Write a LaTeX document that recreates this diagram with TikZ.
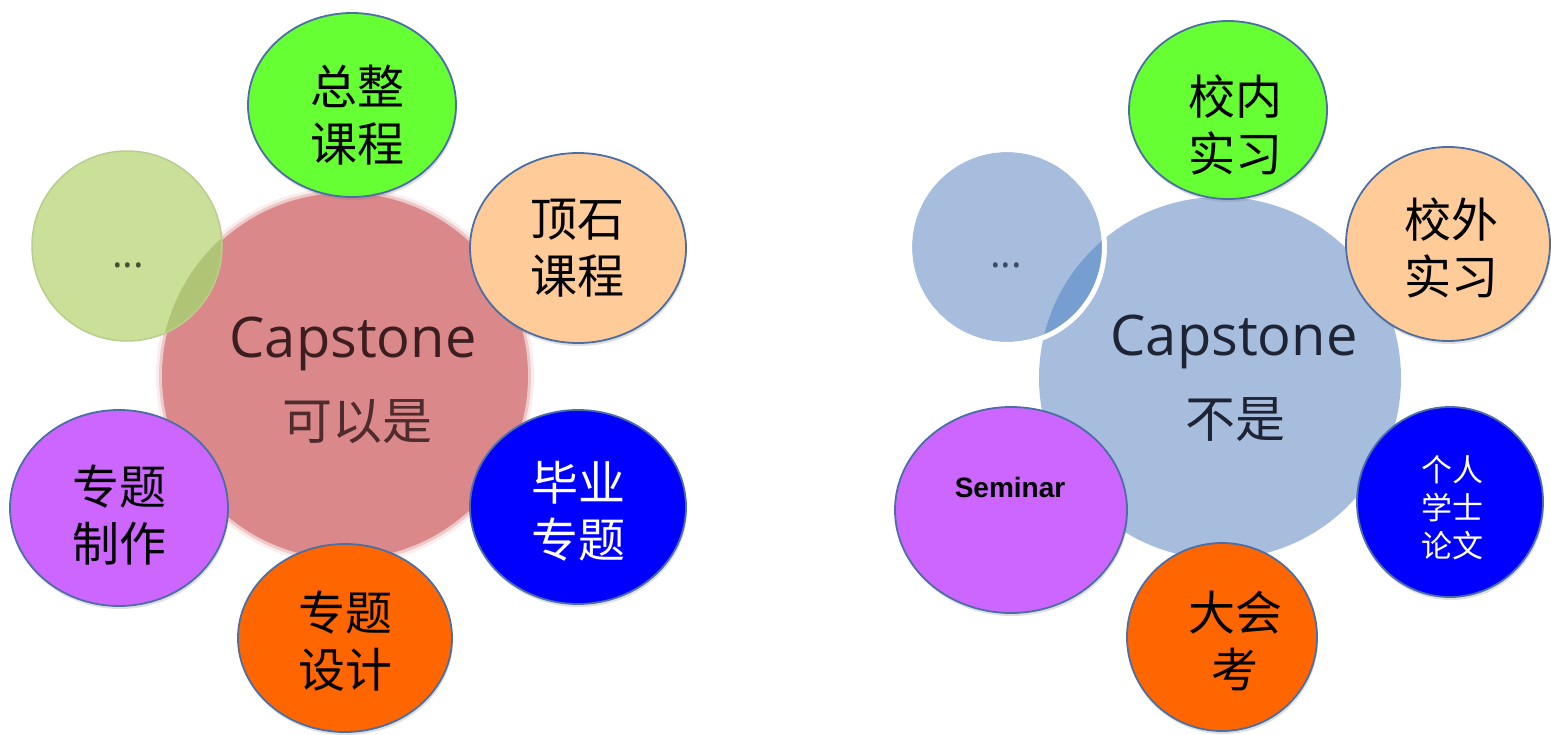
\documentclass[tikz,border=0pt]{standalone}
\usepackage{fontspec}
\usetikzlibrary{shapes.geometric,shadows}
\newfontfamily\cjk{Noto Sans CJK SC}
\newfontfamily\capf{Open Sans}
\newfontfamily\semf{Liberation Sans}
\definecolor{cgreen}{RGB}{102,255,51}
\definecolor{cpeach}{RGB}{255,204,153}
\definecolor{cblue}{RGB}{0,0,255}
\definecolor{corange}{RGB}{255,102,0}
\definecolor{cpurple}{RGB}{204,102,255}
\definecolor{cborder}{RGB}{75,110,165}
\definecolor{cpink}{RGB}{218,136,138}
\definecolor{clblue}{RGB}{166,189,222}
\definecolor{cdblue}{RGB}{118,158,208}
\definecolor{clgreen}{RGB}{202,224,152}
\definecolor{cogreen}{RGB}{176,196,118}
\definecolor{cgborder}{RGB}{185,205,140}
\definecolor{ctxtL}{RGB}{60,30,32}
\definecolor{ctxtL2}{RGB}{78,44,46}
\definecolor{ctxtR}{RGB}{30,36,52}
\definecolor{cdots}{RGB}{70,80,50}
\definecolor{cdotsR}{RGB}{60,75,100}
\begin{document}
\begin{tikzpicture}[x=1pt,y=-1pt,
  bub/.style={ellipse,draw=cborder,line width=1.8pt,inner sep=0pt,
    drop shadow={opacity=0.25,shadow xshift=1pt,shadow yshift=-3pt}},
  lab/.style={font=\cjk\fontsize{47}{57}\selectfont,align=center,inner sep=0pt,text=black},
  labw/.style={lab,text=white},
  small/.style={font=\cjk\fontsize{31}{38}\selectfont,align=center,inner sep=0pt,text=white},
  capL/.style={font=\capf\fontsize{56}{60}\selectfont,inner sep=0pt,anchor=base},
  cjkmid/.style={font=\cjk\fontsize{50}{50}\selectfont,inner sep=0pt},
  dots/.style={font=\capf\fontsize{40}{40}\selectfont,inner sep=0pt,anchor=base}]
\path[use as bounding box,fill=white] (0,0) rectangle (1551,734);

% ---------------- left diagram ----------------
\fill[cpink,opacity=0.15] (345,376) circle[radius=189];
\fill[cpink,opacity=0.35] (345,376) circle[radius=186];
\node[circle,fill=cpink,minimum size=366pt,inner sep=0pt] (cL) at (345,376) {};

\node[circle,fill=clgreen,minimum size=190pt,inner sep=0pt] (dL) at (127,246) {};
\begin{scope}
  \clip (127,246) circle[radius=95];
  \fill[cogreen] (345,376) circle[radius=185];
\end{scope}
\draw[cgborder,line width=1.5pt] (dL.center) circle[radius=95];
\node[dots,text=cdots] (dLt) at (128,267) {...};

\node[capL,text=ctxtL] (capLt) at (353,357) {Capstone};
\node[cjkmid,text=ctxtL2] (kyL) at (357,422) {可以是};

\node[bub,fill=cgreen,minimum width=208pt,minimum height=184pt] (zz) at (352,105) {};
\node[bub,fill=cpeach,minimum width=216pt,minimum height=190pt] (ds) at (578,248) {};
\node[bub,fill=cblue,minimum width=216pt,minimum height=194pt] (by) at (578,507) {};
\node[bub,fill=corange,minimum width=214pt,minimum height=188pt] (zs) at (345,638) {};
\node[bub,fill=cpurple,minimum width=218pt,minimum height=196pt] (zzz) at (119,508) {};

\node[lab] (zzt) at (357,115) {总整\\课程};
\node[lab] (dst) at (577,248) {顶石\\课程};
\node[labw] (byt) at (578,511) {毕业\\专题};
\node[lab] (zst) at (345,641) {专题\\设计};
\node[lab] (zzzt) at (119,515) {专题\\制作};

% ---------------- right diagram ----------------
\node[circle,fill=clblue,minimum size=362pt,inner sep=0pt] (cR) at (1220,378) {};

\node[circle,fill=clblue,minimum size=190pt,inner sep=0pt] (dR) at (1007,247) {};
\begin{scope}
  \clip (1007,247) circle[radius=95];
  \fill[cdblue] (1220,378) circle[radius=181];
\end{scope}
\draw[white,line width=5pt] (dR.center) circle[radius=97.5];
\node[dots,text=cdotsR] (dRt) at (1006,267) {...};

\node[capL,text=ctxtR] (capRt) at (1234,355) {Capstone};
\node[cjkmid,text=ctxtR] (bsR) at (1235,420) {不是};

\node[bub,fill=cgreen,minimum width=198pt,minimum height=178pt] (xn) at (1228,110) {};
\node[bub,fill=cpeach,minimum width=204pt,minimum height=194pt] (xw) at (1448,244) {};
\node[bub,fill=cblue,minimum width=186pt,minimum height=190pt] (gr) at (1450,502) {};
\node[bub,fill=corange,minimum width=190pt,minimum height=188pt] (dh) at (1222,637) {};
\node[bub,fill=cpurple,minimum width=232pt,minimum height=206pt] (sm) at (1011,510) {};

\node[lab] (xnt) at (1235,125) {校内\\实习};
\node[lab] (xwt) at (1451,248) {校外\\实习};
\node[small] (grt) at (1452,508) {个人\\学士\\论文};
\node[lab] (dht) at (1235,641) {大会\\考};
\node[font=\semf\bfseries\fontsize{28}{28}\selectfont,inner sep=0pt] (smt) at (1010,487) {Seminar};
\end{tikzpicture}
\end{document}
